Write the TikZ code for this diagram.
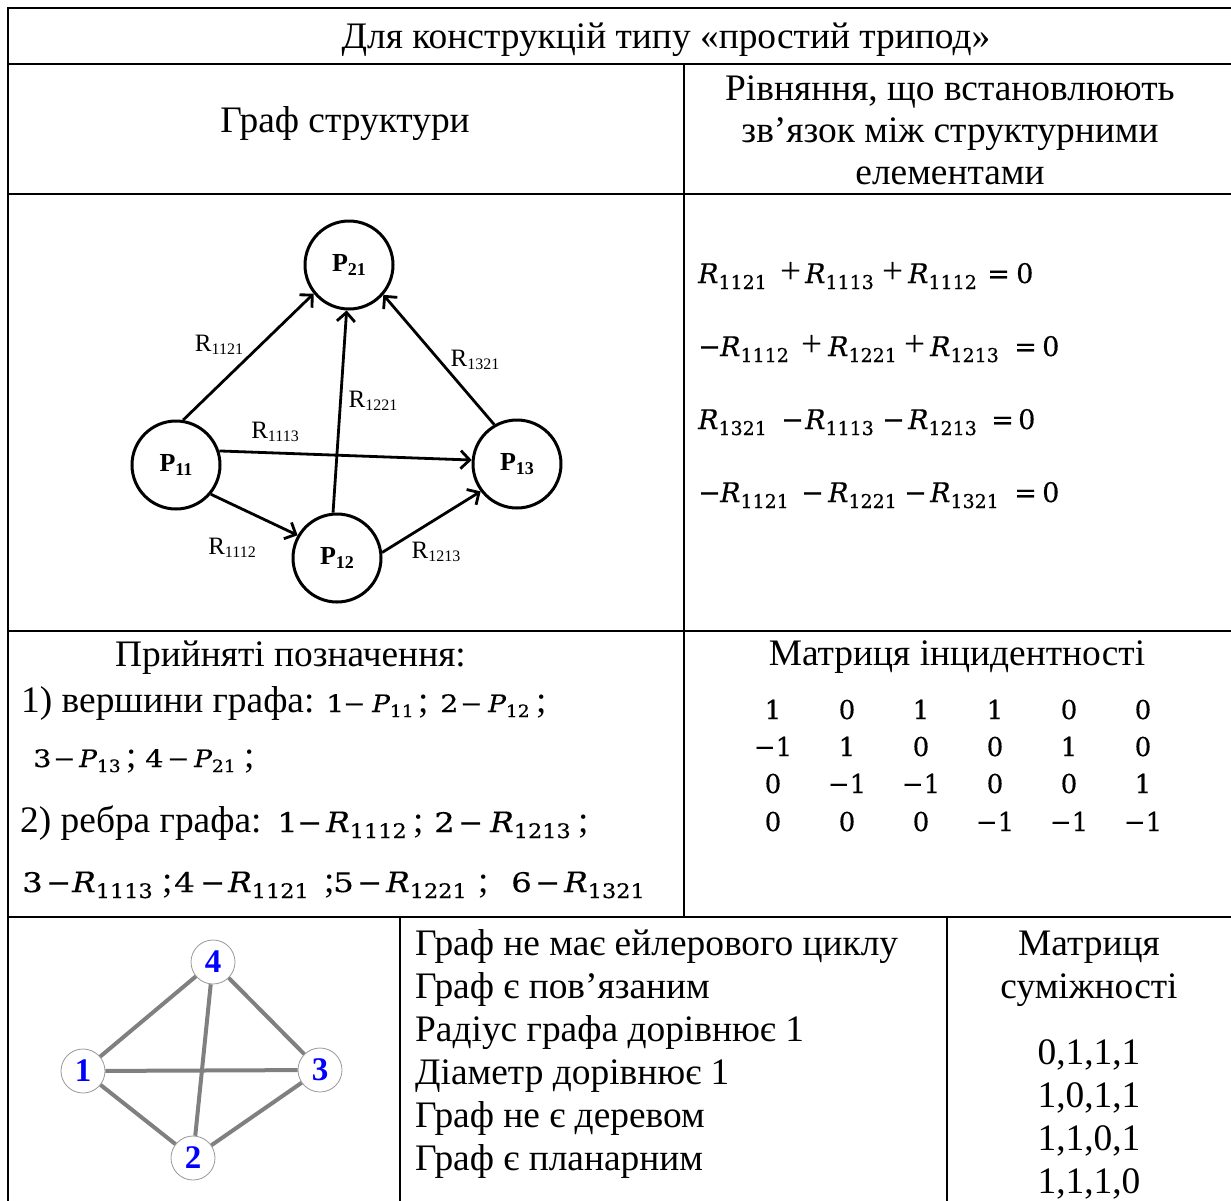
\documentclass[tikz,border=0pt]{standalone}
\usepackage{fontspec}
\usepackage{graphicx}
\setmainfont{Liberation Serif}
\newfontfamily\mf{DejaVu Serif}[FakeBold=0.4]
\usetikzlibrary{arrows.meta}
\newcommand\At[2]{\rlap{\hspace*{#1pt}#2}}
\newcommand\Fs[1]{\fontsize{#1}{#1}\selectfont}
% #1 letter size, #2 sub size, #3 drop, #4 letter, #5 subscript
\newcommand\Var[5]{{\Fs{#1}\mf\itshape #4}\raisebox{-#3pt}{\Fs{#2}\mf #5}}
\newcommand\ER[1]{\Var{27}{19}{6}{R}{#1}}
\newcommand\NP[1]{\scalebox{1.1}[1]{\Var{24}{17}{5}{P}{#1}}}
\newcommand\NR[1]{\scalebox{1.12}[1]{\Var{28}{20}{6}{R}{#1}}}
\newcommand\ND[2]{\scalebox{1.2}[1]{\Fs{#1}\mf #2}}
\newcommand\NM[1]{\scalebox{1.1}[1]{\Fs{#1}\mf −}}
\newcommand\PL[1]{{\Fs{26}\bfseries P}\raisebox{-4pt}{\Fs{18}\bfseries #1}}
\newcommand\RL[1]{{\Fs{25}R}\raisebox{-3pt}{\Fs{16}#1}}
\begin{document}
\begin{tikzpicture}[x=1pt,y=-1pt,
  tl/.style={line width=2pt,line cap=rect},
  txt/.style={inner sep=0pt,anchor=base,font=\Fs{37.4}},
  ltxt/.style={inner sep=0pt,anchor=base west,font=\Fs{37.4}},
  bigc/.style={circle,draw,line width=3pt,minimum size=88pt,inner sep=0pt,fill=white},
  arr/.style={line width=2.8pt,-{Straight Barb[length=9pt,width=18pt]}},
  elab/.style={inner sep=0pt},
  sc/.style={circle,draw=black!40,line width=0.8pt,fill=white,minimum size=44pt,inner sep=0pt,
    text=blue,font=\Fs{33}\bfseries},
  ge/.style={draw=black!50,line width=4pt},
  mx/.style={inner sep=0pt,anchor=base,font=\Fs{26}\mf}]
\useasboundingbox (0,0) rectangle (1231,1200);
% table
\draw[tl] (8,1200) -- (8,8) -- (1231,8);
\draw[tl] (8,64) -- (1231,64);
\draw[tl] (8,194) -- (1231,194);
\draw[tl] (8,631) -- (1231,631);
\draw[tl] (8,917) -- (1231,917);
\draw[tl] (684,64) -- (684,917);
\draw[tl] (400,917) -- (400,1200);
\draw[tl] (947,917) -- (947,1200);
% headers
\node[txt] (title) at (666,48) {Для конструкцій типу «простий трипод»};
\node[txt] (h1) at (345,132) {Граф структури};
\node[txt] (h2a) at (950,100) {Рівняння, що встановлюють};
\node[txt] (h2b) at (950,142) {зв’язок між структурними};
\node[txt] (h2c) at (950,184) {елементами};
% big graph
\node[bigc] (P21) at (349,265) {\PL{21}};
\node[bigc] (P11) at (176,465) {\PL{11}};
\node[bigc] (P13) at (517,464) {\PL{13}};
\node[bigc] (P12) at (337,558) {\PL{12}};
\draw[arr] (P11.81) -- (P21.219);
\draw[arr] (P12.95) -- (P21.267);
\draw[arr] (P13.120) -- (P21.319);
\draw[arr] (P11.18) -- (P13.175);
\draw[arr] (P11.-40) -- (P12.150);
\draw[arr] (P12.7) -- (P13.217);
\node[elab] (l1121) at (219,345) {\RL{1121}};
\node[elab] (l1221) at (373,401) {\RL{1221}};
\node[elab] (l1321) at (475,360) {\RL{1321}};
\node[elab] (l1113) at (275,432) {\RL{1113}};
\node[elab] (l1112) at (232,548) {\RL{1112}};
\node[elab] (l1213) at (436,552) {\RL{1213}};
% equations
\node[ltxt] (eq1) at (698,283) {\At{0}{\ER{1121}}\At{82}{+}\At{107}{\ER{1113}}\At{184}{+}\At{210}{\ER{1112}}\At{289}{\mf\Fs{27}=}\At{318}{\mf\Fs{27}0}\hspace*{335pt}};
\node[ltxt] (eq2) at (698,356) {\At{0}{\mf\Fs{27}−}\At{22}{\ER{1112}}\At{103}{+}\At{130}{\ER{1221}}\At{206}{+}\At{232}{\ER{1213}}\At{316}{\mf\Fs{27}=}\At{344}{\mf\Fs{27}0}\hspace*{360pt}};
\node[ltxt] (eq3) at (698,429) {\At{0}{\ER{1321}}\At{83}{\mf\Fs{27}−}\At{107}{\ER{1113}}\At{184}{\mf\Fs{27}−}\At{210}{\ER{1213}}\At{293}{\mf\Fs{27}=}\At{320}{\mf\Fs{27}0}\hspace*{335pt}};
\node[ltxt] (eq4) at (698,502) {\At{0}{\mf\Fs{27}−}\At{22}{\ER{1121}}\At{103}{\mf\Fs{27}−}\At{130}{\ER{1221}}\At{206}{\mf\Fs{27}−}\At{232}{\ER{1321}}\At{316}{\mf\Fs{27}=}\At{344}{\mf\Fs{27}0}\hspace*{360pt}};
% notations
\node[ltxt] (n0) at (115,666) {Прийняті позначення:};
\node[ltxt] (n1) at (0,712) {\At{21}{1) вершини графа:}\At{326}{\ND{24}{1}}\At{343}{\NM{24}}\At{372}{\NP{11}}\At{418}{;}\At{440}{\ND{24}{2}}\At{460}{\NM{24}}\At{488}{\NP{12}}\At{536}{;}\hspace*{550pt}};
\node[ltxt] (n2) at (0,767) {\At{33}{\ND{24}{3}}\At{53}{\NM{24}}\At{79}{\NP{13}}\At{126}{;}\At{145}{\ND{24}{4}}\At{167}{\NM{24}}\At{194}{\NP{21}}\At{244}{;}\hspace*{260pt}};
\node[ltxt] (n3) at (0,832) {\At{20}{2) ребра графа:}\At{277}{\ND{27}{1}}\At{297}{\NM{27}}\At{326}{\NR{1112}}\At{413}{;}\At{434}{\ND{27}{2}}\At{458}{\NM{27}}\At{490}{\NR{1213}}\At{578}{;}\hspace*{590pt}};
\node[ltxt] (n4) at (0,892) {\At{22}{\ND{27}{3}}\At{46}{\NM{27}}\At{72}{\NR{1113}}\At{162}{;}\At{174}{\ND{27}{4}}\At{200}{\NM{27}}\At{228}{\NR{1121}}\At{324}{;}\At{333}{\ND{27}{5}}\At{357}{\NM{27}}\At{386}{\NR{1221}}\At{478}{;}\At{511}{\ND{27}{6}}\At{535}{\NM{27}}\At{564}{\NR{1321}}\hspace*{650pt}};
% incidence matrix
\node[txt] (mh) at (957,665) {Матриця інцидентності};
\foreach \r/\y/\vals in {1/719/{1,0,1,1,0,0},2/756/{−1,1,0,0,1,0},3/793/{0,−1,−1,0,0,1},4/831/{0,0,0,−1,−1,−1}}{
  \foreach \v [count=\c] in \vals {
    \pgfmathsetmacro\xx{773+74*(\c-1)}
    \node[mx] (m\r\c) at (\xx,\y) {\v};
  }
}
% bottom graph
\node[sc] (g4) at (213,962) {4};
\node[sc] (g1) at (83,1071) {1};
\node[sc] (g3) at (320,1070) {3};
\node[sc] (g2) at (193,1158) {2};
\draw[ge] (g1) -- (g4);
\draw[ge] (g4) -- (g3);
\draw[ge] (g4) -- (g2);
\draw[ge] (g1) -- (g3);
\draw[ge] (g1) -- (g2);
\draw[ge] (g2) -- (g3);
% properties
\node[ltxt] (p1) at (415,955) {Граф не має ейлерового циклу};
\node[ltxt] (p2) at (415,998) {Граф є пов’язаним};
\node[ltxt] (p3) at (415,1041) {Радіус графа дорівнює 1};
\node[ltxt] (p4) at (415,1084) {Діаметр дорівнює 1};
\node[ltxt] (p5) at (415,1127) {Граф не є деревом};
\node[ltxt] (p6) at (415,1170) {Граф є планарним};
% adjacency
\node[txt] (a0) at (1089,955) {Матриця};
\node[txt] (a1) at (1089,998) {суміжності};
\node[txt] (a2) at (1089,1064) {0,1,1,1};
\node[txt] (a3) at (1089,1107) {1,0,1,1};
\node[txt] (a4) at (1089,1150) {1,1,0,1};
\node[txt] (a5) at (1089,1193) {1,1,1,0};
\end{tikzpicture}
\end{document}
